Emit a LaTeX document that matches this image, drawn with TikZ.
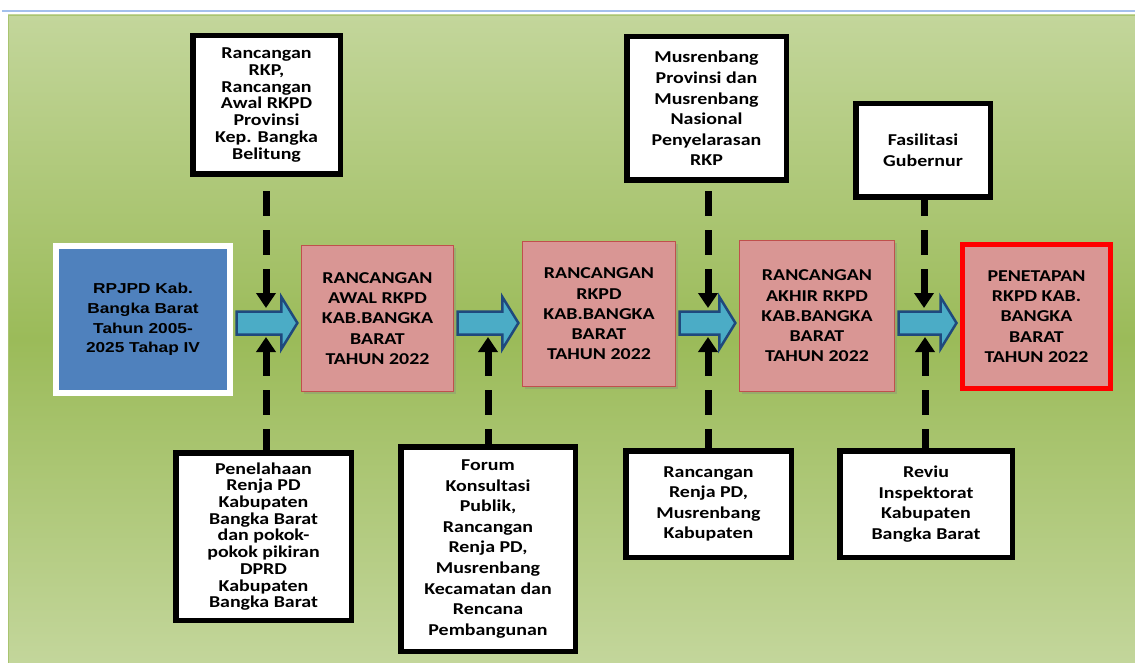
\documentclass[tikz,border=0pt]{standalone}
\usepackage{fontspec}
\setmainfont{Carlito}[FakeStretch=1.2]
\newfontfamily\arialfont{Liberation Sans}[FakeStretch=1.2]
\usetikzlibrary{arrows.meta,calc,shadows}
\definecolor{gtop}{HTML}{C3D69B}
\definecolor{gmid}{HTML}{9BBB59}
\definecolor{gline}{HTML}{A9C470}
\definecolor{topline}{HTML}{A4C0EC}
\definecolor{pinkfill}{HTML}{D99694}
\definecolor{pinkline}{HTML}{C0504D}
\definecolor{bluefill}{HTML}{4F81BD}
\definecolor{arrfill}{HTML}{4BACC6}
\definecolor{arrline}{HTML}{1F497D}
\newcommand\blockarr[2]{%
  \draw[barrowstyle] let \p1=($(#1.east)+(3.5,0)$), \p2=($(#2.west)+(-3.5,0)$), \p3=(ay) in
  (\x1,{\y3+11.5pt}) -- ({\x2-16pt},{\y3+11.5pt}) -- ({\x2-16pt},{\y3+26pt}) -- (\x2,\y3)
  -- ({\x2-16pt},{\y3-26pt}) -- ({\x2-16pt},{\y3-11.5pt}) -- (\x1,{\y3-11.5pt}) -- cycle;}
\tikzset{
  shad/.style={drop shadow={shadow xshift=2pt,shadow yshift=-2pt,opacity=0.3}},
  wbox/.style={draw=black, line width=5.5pt, fill=white, align=center, inner sep=0pt,
    font=\bfseries\fontsize{16.6}{20.6}\selectfont, shad},
  tight/.style={font=\bfseries\fontsize{16.6}{16.7}\selectfont},
  pbox/.style={draw=pinkline, line width=1.2pt, fill=pinkfill, align=center, inner sep=0pt,
    font=\bfseries\fontsize{16.6}{20.2}\selectfont, shad},
  rbox/.style={pbox, draw=red, line width=5pt},
  bbox/.style={draw=white, line width=6pt, fill=bluefill, align=center, inner sep=0pt,
    font=\arialfont\bfseries\fontsize{14.4}{19.7}\selectfont, shad},
  barrowstyle/.style={draw=arrline, fill=arrfill, line width=2.5pt, line join=miter},
  dconn/.style={line width=7pt, dash pattern=on 25pt off 14pt, {Triangle[width=19pt,length=15pt]}-}
}
\begin{document}
\begin{tikzpicture}[x=1pt,y=-1pt]
\useasboundingbox (0,0) rectangle (1135,663);
\fill[white] (0,0) rectangle (1135,663);
\draw[topline, line width=2pt] (2,11) -- (1135,11);
\shade[top color=gtop, bottom color=gtop, middle color=gmid] (8,15) rectangle (1135,663);
\draw[gline, line width=1pt] (8.5,663) -- (8.5,15.5) -- (1135,15.5);

% top boxes
\node[wbox, tight, minimum width=147.5, minimum height=138.5] (t1) at (266.5,105)
  {Rancangan\\RKP,\\Rancangan\\Awal RKPD\\Provinsi\\Kep. Bangka\\Belitung};
\node[wbox, minimum width=159.5, minimum height=143.5] (t2) at (706.5,108.5)
  {Musrenbang\\Provinsi dan\\Musrenbang\\Nasional\\Penyelarasan\\RKP};
\node[wbox, minimum width=134.5, minimum height=93.5] (t3) at (923,150.5)
  {Fasilitasi\\Gubernur};

% main row
\node[bbox, minimum width=174, minimum height=147] (s0) at (143,319.5)
  {RPJPD Kab.\\Bangka Barat\\Tahun 2005-\\2025 Tahap IV};
\node[pbox, minimum width=152, minimum height=146] (s1) at (377.5,318.5)
  {RANCANGAN\\AWAL RKPD\\KAB.BANGKA\\BARAT\\TAHUN 2022};
\node[pbox, minimum width=153, minimum height=145] (s2) at (599,314)
  {RANCANGAN\\RKPD\\KAB.BANGKA\\BARAT\\TAHUN 2022};
\node[pbox, minimum width=155, minimum height=151] (s3) at (817,316)
  {RANCANGAN\\AKHIR RKPD\\KAB.BANGKA\\BARAT\\TAHUN 2022};
\node[rbox, minimum width=148, minimum height=144] (s4) at (1036.5,316.5)
  {PENETAPAN\\RKPD KAB.\\BANGKA\\BARAT\\TAHUN 2022};

% bottom boxes
\node[wbox, tight, minimum width=175.5, minimum height=167.5] (b1) at (263.5,536.5)
  {Penelahaan\\Renja PD\\Kabupaten\\Bangka Barat\\dan pokok-\\pokok pikiran\\DPRD\\Kabupaten\\Bangka Barat};
\node[wbox, minimum width=174.5, minimum height=204.5] (b2) at (488,549)
  {Forum\\Konsultasi\\Publik,\\Rancangan\\Renja PD,\\Musrenbang\\Kecamatan dan\\Rencana\\Pembangunan};
\node[wbox, minimum width=165.5, minimum height=106.5] (b3) at (708.5,504)
  {Rancangan\\Renja PD,\\Musrenbang\\Kabupaten};
\node[wbox, minimum width=172.5, minimum height=106.5] (b4) at (926,504)
  {Reviu\\Inspektorat\\Kabupaten\\Bangka Barat};

% block arrows
\coordinate (ay) at (0,323);
\blockarr{s0}{s1}
\blockarr{s1}{s2}
\blockarr{s2}{s3}
\blockarr{s3}{s4}

% dashed connectors
\coordinate (d1) at (266,308);
\coordinate (d2) at (708,308);
\coordinate (d3) at (924,308);
\coordinate (u1) at (266,337);
\coordinate (u2) at (488,337);
\coordinate (u3) at (708,337);
\coordinate (u4) at (925,337);
\draw[dconn] (d1) -- (d1 |- t1.south);
\draw[dconn] (d2) -- (d2 |- t2.south);
\draw[dconn] (d3) -- (d3 |- t3.south);
\draw[dconn] (u1) -- (u1 |- b1.north);
\draw[dconn] (u2) -- (u2 |- b2.north);
\draw[dconn] (u3) -- (u3 |- b3.north);
\draw[dconn] (u4) -- (u4 |- b4.north);
\end{tikzpicture}
\end{document}
